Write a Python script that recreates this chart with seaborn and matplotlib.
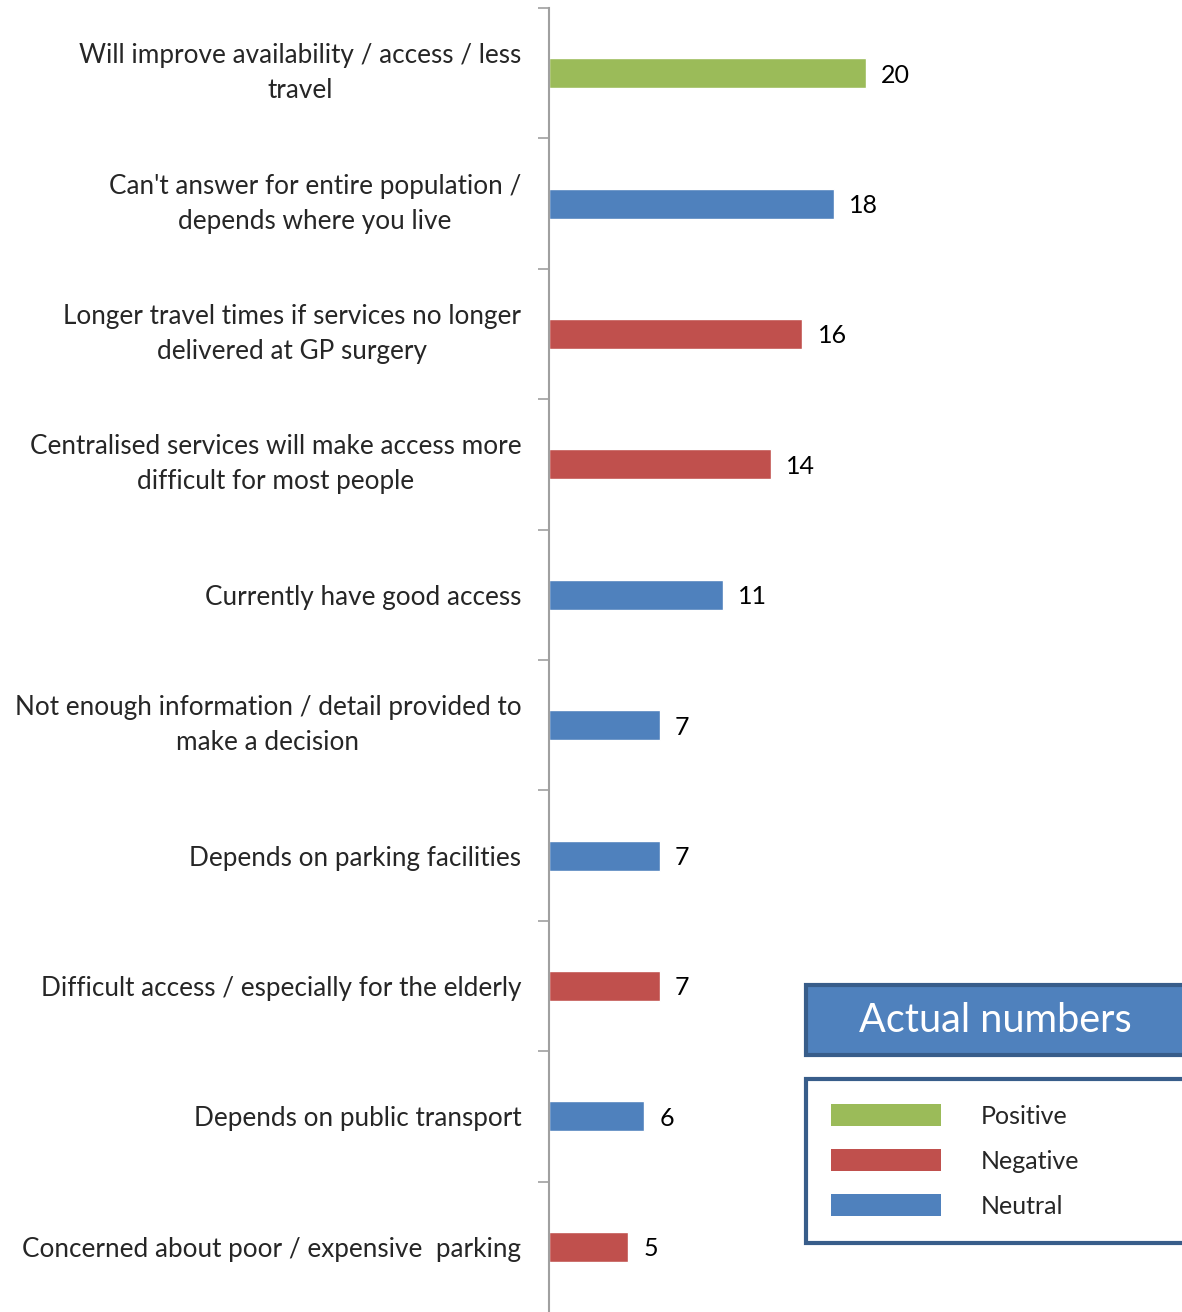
import matplotlib
matplotlib.use("Agg")
import matplotlib.pyplot as plt
import seaborn as sns
import pandas as pd
from matplotlib.patches import Patch, Rectangle

categories = [
    "Will improve availability / access / less\ntravel",
    "Can't answer for entire population /\ndepends where you live",
    "Longer travel times if services no longer\ndelivered at GP surgery",
    "Centralised services will make access more\ndifficult for most people",
    "Currently have good access",
    "Not enough information / detail provided to\nmake a decision",
    "Depends on parking facilities",
    "Difficult access / especially for the elderly",
    "Depends on public transport",
    "Concerned about poor / expensive  parking",
]
values = [20, 18, 16, 14, 11, 7, 7, 7, 6, 5]
sentiment = ["Positive", "Neutral", "Negative", "Negative", "Neutral",
             "Neutral", "Neutral", "Negative", "Neutral", "Negative"]
legend_labels = ["Positive", "Negative", "Neutral"]
palette = {"Positive": "#9BBB59", "Negative": "#C0504D", "Neutral": "#4F81BD"}

df = pd.DataFrame({"category": categories, "value": values, "sentiment": sentiment})

sns.set_style("white")
plt.rcParams["font.family"] = ["Lato", "DejaVu Sans"]

fig = plt.figure(figsize=(11.82, 13.12), dpi=100)
ax = fig.add_axes([549 / 1182, 0.0, 1 - 549 / 1182, 1 - 8 / 1312])

sns.barplot(data=df, y="category", x="value", hue="sentiment", palette=palette,
            dodge=False, width=0.23, orient="h", ax=ax, legend=False,
            saturation=1)

for c in ax.containers:
    labs = [f"{int(v)}" if v == v else "" for v in c.datavalues]
    texts = ax.bar_label(c, labels=labs, padding=11, fontsize=18, color="black")
    for t in texts:
        t.set_va("center_baseline")

ax.set_xlim(0, 40)
ax.set_ylim(len(categories) - 0.5, -0.5)
ax.set_xlabel("")
ax.set_ylabel("")
ax.set_xticks([])
for s in ["top", "right", "bottom"]:
    ax.spines[s].set_visible(False)
ax.spines["left"].set_color("#A0A0A0")
ax.spines["left"].set_linewidth(1.5)

ax.set_yticks(range(len(categories)))
ax.set_yticklabels(categories, fontsize=18.8, multialignment="center", linespacing=1.5)
for lbl in ax.get_yticklabels():
    if "\n" in lbl.get_text():
        lbl.set_va("center")
    else:
        lbl.set_va("center_baseline")
ax.tick_params(axis="y", which="major", length=0, pad=20)
ax.set_yticks([i - 0.5 for i in range(len(categories))], minor=True)
ax.tick_params(axis="y", which="minor", length=8, width=1.2, color="#A0A0A0", left=True)

# Title box "Actual numbers"
fig.patches.append(Rectangle((806 / 1182, 1 - 1055 / 1312), (1190 - 806) / 1182, 70 / 1312,
                             transform=fig.transFigure, facecolor="#4F81BD",
                             edgecolor="#385D8A", linewidth=3, zorder=5))
fig.text(995 / 1182, 1 - 1021 / 1312, "Actual numbers",
         ha="center", va="center", color="white", fontsize=28.5, zorder=6)

handles = [Patch(facecolor=palette[l], edgecolor="none", label=l) for l in legend_labels]
leg = fig.legend(handles=handles, loc="upper left",
                 bbox_to_anchor=(806 / 1182, 1 - 1079 / 1312, (1190 - 806) / 1182, 0),
                 mode="expand",
                 fontsize=18, frameon=True, fancybox=False, framealpha=1,
                 handlelength=4.4, handleheight=1.0, handletextpad=1.6,
                 labelspacing=0.85, borderpad=1.0, borderaxespad=0)
leg.get_frame().set_edgecolor("#385D8A")
leg.get_frame().set_linewidth(3)

fig.savefig("out.png", dpi=100)
